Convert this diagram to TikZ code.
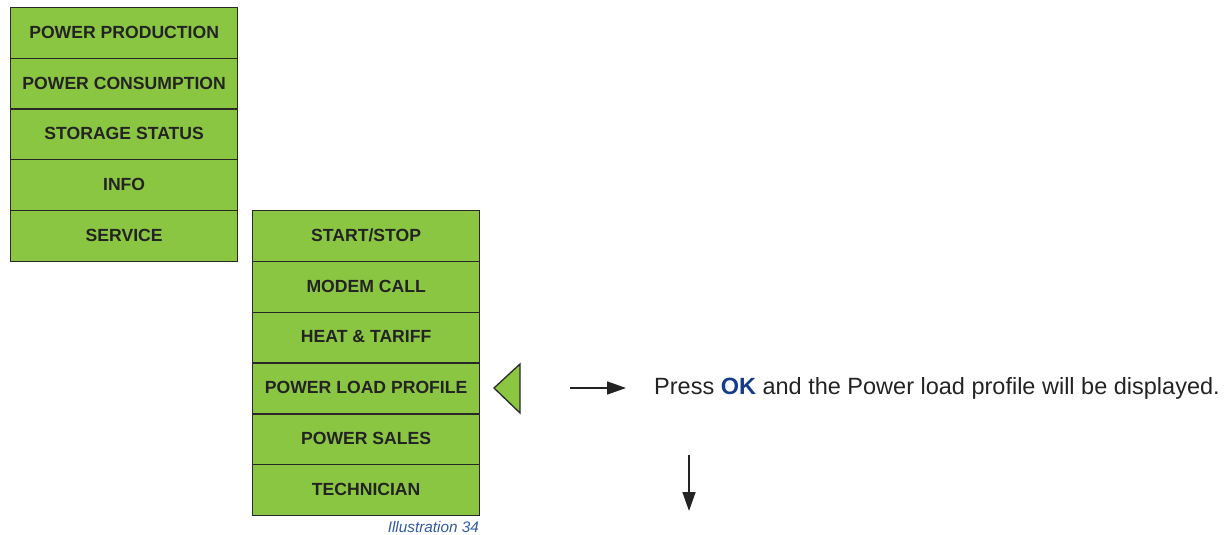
\documentclass[tikz,border=0pt]{standalone}
\usepackage{fontspec}
\setmainfont{Liberation Sans}
\usetikzlibrary{arrows.meta}
\definecolor{menugreen}{RGB}{139,198,67}
\definecolor{edge}{RGB}{40,40,40}
\definecolor{okblue}{RGB}{20,60,140}
\definecolor{capblue}{RGB}{50,90,160}
\definecolor{txt}{RGB}{35,35,35}
\begin{document}
\begin{tikzpicture}[x=1pt,y=-1pt,
  menuitem/.style={draw=edge,line width=1.3pt,fill=menugreen,minimum width=227pt,minimum height=50.7pt,
    inner sep=0pt,anchor=north west,font=\fontsize{17.6}{20}\selectfont\bfseries,text=txt},
  conn/.style={-{Triangle[length=19pt,width=13pt]},line width=1.6pt,draw=txt,fill=txt}]
\useasboundingbox (0,0) rectangle (1224,535);
\node[menuitem] (pp) at (10,7) {\raisebox{1.5pt}{POWER PRODUCTION}};
\node[menuitem] (pc) at (10,57.7) {\raisebox{1.5pt}{POWER CONSUMPTION}};
\node[menuitem] (ss) at (10,108.4) {\raisebox{1.5pt}{STORAGE STATUS}};
\node[menuitem] (inf) at (10,159.1) {\raisebox{1.5pt}{INFO}};
\node[menuitem] (srv) at (10,209.8) {\raisebox{1.5pt}{SERVICE}};
\node[menuitem] (ss1) at (252,210) {\raisebox{1.5pt}{START/STOP}};
\node[menuitem] (mc) at (252,260.8) {\raisebox{1.5pt}{MODEM CALL}};
\node[menuitem] (ht) at (252,311.6) {\raisebox{1.5pt}{HEAT \& TARIFF}};
\node[menuitem] (plp) at (252,362.4) {\raisebox{1.5pt}{POWER LOAD PROFILE}};
\node[menuitem] (ps) at (252,413.2) {\raisebox{1.5pt}{POWER SALES}};
\node[menuitem] (tec) at (252,464) {\raisebox{1.5pt}{TECHNICIAN}};
\node[anchor=north east,inner sep=0pt,font=\fontsize{15.3}{17}\selectfont\itshape,text=capblue] (cap) at (479,521) {Illustration 34};
\draw[draw=edge,line width=1.3pt,fill=menugreen,line join=miter] (494,388) -- (520,364) -- (520,413) -- cycle;
\coordinate (a1) at (570,388);
\coordinate (a2) at (626,388);
\draw[conn] (a1) -- (a2);
\node[anchor=west,inner sep=0pt,font=\fontsize{23.5}{27}\selectfont,text=txt] (msg) at (654,388) {Press \textcolor{okblue}{\textbf{OK}} and the Power load profile will be displayed.};
\coordinate (d1) at (689,455);
\coordinate (d2) at (689,511);
\draw[conn] (d1) -- (d2);
\end{tikzpicture}
\end{document}
